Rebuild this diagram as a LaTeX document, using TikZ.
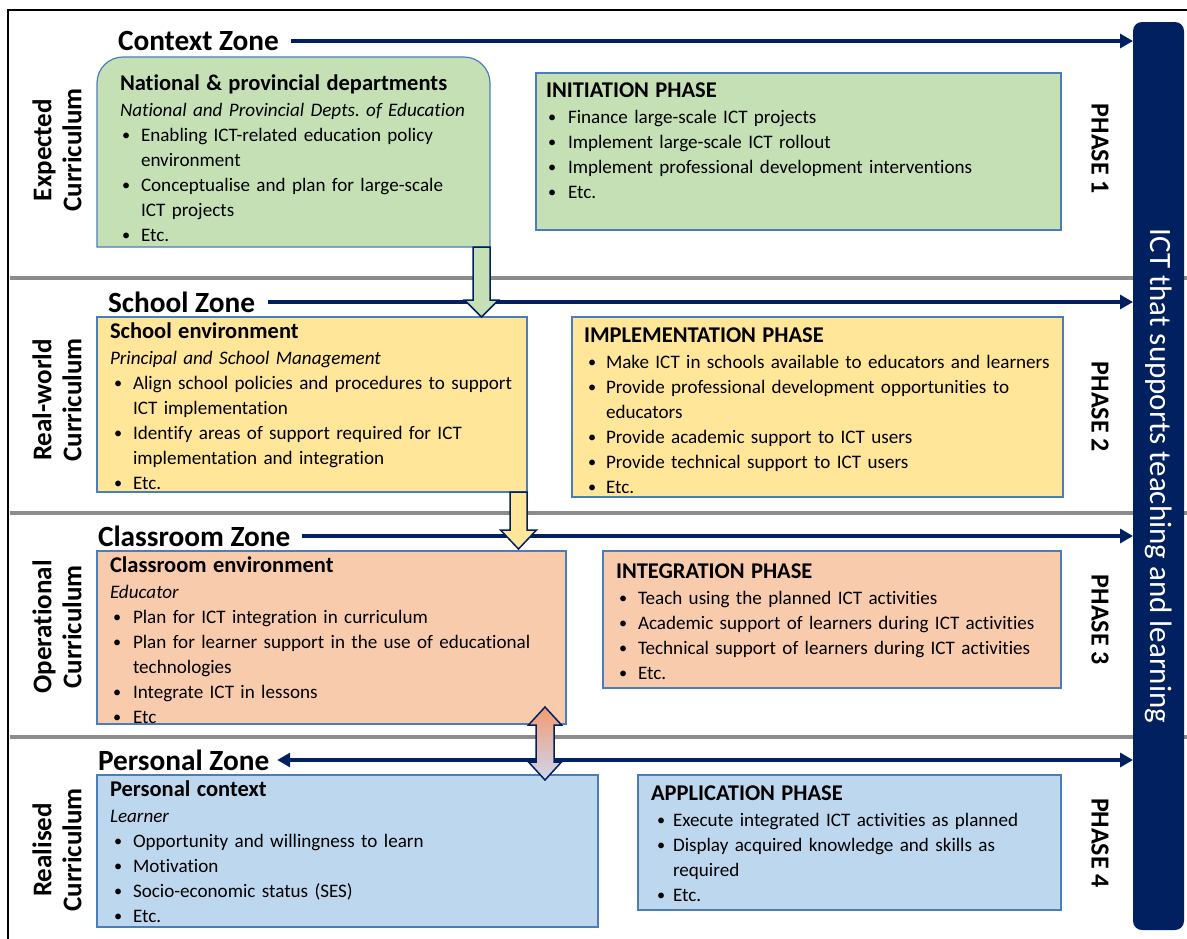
\documentclass[tikz,border=0pt]{standalone}
\usepackage{fontspec}
\setmainfont{Carlito}[Ligatures=NoCommon]
\usetikzlibrary{arrows.meta,calc}

\definecolor{navy}{HTML}{002060}
\definecolor{boxline}{HTML}{4A7EBB}
\definecolor{fgreen}{HTML}{C5E0B4}
\definecolor{fyellow}{HTML}{FFE699}
\definecolor{forange}{HTML}{F8CBAD}
\definecolor{fblue}{HTML}{BDD7EE}
\definecolor{sepgray}{HTML}{8C8C8C}
\definecolor{dtop}{HTML}{F29C70}
\definecolor{dbot}{HTML}{CDD6EF}

% no hyphenation, single spaces after full stops
\newcommand\plainpar{\hyphenpenalty=10000 \exhyphenpenalty=10000 \frenchspacing}

% bullet list helpers: \bset{bullet offset}{text indent}
\newlength\bind \newlength\boff
\newcommand\bset[2]{\setlength\boff{#1}\setlength\bind{#2}\plainpar}
\newcommand\bitem[1]{\par\hangindent=\bind\hangafter=1\noindent\makebox[\bind][l]{\hspace{\boff}\raisebox{1pt}{\scalebox{0.85}{•}}}#1}
\newcommand\ttl[1]{{\bfseries\fontsize{22.5}{25}\selectfont #1\par}\vspace{1.5pt}}

\tikzset{
  x=1pt, y=-1pt,
  box/.style={draw=boxline, line width=1.2pt, rectangle, inner sep=0pt, outer sep=0pt, anchor=north west},
  txt/.style={anchor=base west, inner sep=0pt, outer sep=0pt, align=left,
    font=\fontsize{19.1}{25}\selectfont},
  zone/.style={anchor=west, inner sep=0pt, outer sep=0pt, font=\bfseries\fontsize{29.3}{32}\selectfont},
  curr/.style={rotate=90, align=center, inner sep=0pt, font=\bfseries\fontsize{27}{30}\selectfont},
  phase/.style={rotate=-90, inner sep=0pt, font=\bfseries\fontsize{26}{30}\selectfont},
  zarrow/.style={draw=navy, line width=3.2pt, -{Triangle[length=13pt,width=14pt]}},
  sep/.style={draw=sepgray, line width=4pt},
  blockarrow/.style={draw=navy, line width=1.5pt, line join=miter},
}

\begin{document}
\begin{tikzpicture}
\useasboundingbox (0,0) rectangle (1187,938);
\clip (0,0) rectangle (1187,938);

% outer frame
\draw[line width=2pt] (8,950) -- (8,10) -- (1200,10);

% zone separators
\draw[sep] (10,278) -- (1187,278);
\draw[sep] (10,513) -- (1187,513);
\draw[sep] (10,737) -- (1187,737);

% vertical bar on the right
\node[fill=navy, rounded corners=9pt, minimum width=51pt, minimum height=908pt, inner sep=0pt, outer sep=0pt, anchor=north west] (bar) at (1133,22) {};
\node[rotate=-90, text=white, inner sep=0pt, font=\fontsize{31}{36}\selectfont] (bartext) at (1159,476) {ICT that supports teaching and learning};

% zone titles and their arrows
\node[zone] (ctx) at (118,41) {Context Zone};
\node[zone] (sch) at (108,302) {School Zone};
\node[zone] (cls) at (98,536) {Classroom Zone};
\node[zone] (per) at (98,760) {Personal Zone};
\draw[zarrow] ([xshift=12]ctx.east) -- (ctx.east -| bar.west);
\draw[zarrow] ([xshift=13]sch.east) -- (sch.east -| bar.west);
\draw[zarrow] ([xshift=12]cls.east) -- (cls.east -| bar.west);
\draw[zarrow, {Triangle[length=13pt,width=14pt]}-{Triangle[length=13pt,width=14pt]}] ([xshift=8]per.east) -- (per.east -| bar.west);

% curriculum labels
\node[curr] (c1) at (57,150) {Expected\\Curriculum};
\node[curr] (c2) at (57,400) {Real-world\\Curriculum};
\node[curr] (c3) at (57,627) {Operational\\Curriculum};
\node[curr] (c4) at (57,850) {Realised\\Curriculum};

% phase labels
\node[phase] (p1) at (1100,149) {PHASE 1};
\node[phase] (p2) at (1100,407) {PHASE 2};
\node[phase] (p3) at (1100,620) {PHASE 3};
\node[phase] (p4) at (1100,843) {PHASE 4};

% context zone
\node[box, draw=none, minimum width=393pt, minimum height=190pt] (nat) at (97,57) {};
\draw[draw=boxline, line width=1.2pt, fill=fgreen] (nat.south west) [rounded corners=26pt] -- (nat.north west) -- (nat.north east) -- (nat.east) [sharp corners] -- (nat.south east) -- cycle;
\node[txt, text width=400pt] (natt) at (120,90) {\bset{2pt}{21pt}%
\ttl{National \& provincial departments}
\textit{National and Provincial Depts. of Education}
\bitem{Enabling ICT-related education policy\newline environment}
\bitem{Conceptualise and plan for large-scale\newline ICT projects}
\bitem{Etc.}};

\node[box, fill=fgreen, minimum width=525pt, minimum height=157pt] (ini) at (536,73) {};
\node[txt, text width=500pt] (init) at (546,97) {\bset{2pt}{22pt}%
\ttl{INITIATION PHASE}
\bitem{Finance large-scale ICT projects}
\bitem{Implement large-scale ICT rollout}
\bitem{Implement professional development interventions}
\bitem{Etc.}};

% school zone
\node[box, fill=fyellow, minimum width=430pt, minimum height=175pt] (school) at (97,317) {};
\node[txt, text width=450pt] (schoolt) at (110,338) {\bset{4pt}{23pt}%
\ttl{School environment}
\textit{Principal and School Management}
\bitem{Align school policies and procedures to support\newline ICT implementation}
\bitem{Identify areas of support required for ICT\newline implementation and integration}
\bitem{Etc.}};

\node[box, fill=fyellow, minimum width=491pt, minimum height=180pt] (imp) at (572,317) {};
\node[txt, text width=520pt] (impt) at (584,342) {\bset{4pt}{22pt}%
\ttl{IMPLEMENTATION PHASE}
\bitem{Make ICT in schools available to educators and learners}
\bitem{Provide professional development opportunities to\newline educators}
\bitem{Provide academic support to ICT users}
\bitem{Provide technical support to ICT users}
\bitem{Etc.}};

% classroom zone
\node[box, fill=forange, minimum width=469pt, minimum height=173pt] (class) at (97,551) {};
\node[txt, text width=480pt] (classt) at (110,572) {\bset{3pt}{23pt}%
\ttl{Classroom environment}
\textit{Educator}
\bitem{Plan for ICT integration in curriculum}
\bitem{Plan for learner support in the use of educational\newline technologies}
\bitem{Integrate ICT in lessons}
\bitem{Etc}};

\node[box, fill=forange, minimum width=458pt, minimum height=137pt] (integ) at (603,551) {};
\node[txt, text width=480pt] (integt) at (616,578) {\bset{3pt}{22pt}%
\ttl{INTEGRATION PHASE}
\bitem{Teach using the planned ICT activities}
\bitem{Academic support of learners during ICT activities}
\bitem{Technical support of learners during ICT activities}
\bitem{Etc.}};

% personal zone
\node[box, fill=fblue, minimum width=501pt, minimum height=152pt] (pers) at (97,775) {};
\node[txt, text width=470pt] (perst) at (110,796) {\bset{4pt}{23pt}%
\ttl{Personal context}
\textit{Learner}
\bitem{Opportunity and willingness to learn}
\bitem{Motivation}
\bitem{Socio-economic status (SES)}
\bitem{Etc.}};

\node[box, fill=fblue, minimum width=423pt, minimum height=135pt] (appl) at (638,775) {};
\node[txt, text width=440pt] (applt) at (651,800) {\bset{6pt}{22pt}%
\ttl{APPLICATION PHASE}
\bitem{Execute integrated ICT activities as planned}
\bitem{Display acquired knowledge and skills as\newline required}
\bitem{Etc.}};

% block arrows between the zones
\coordinate (g0) at ($(nat.south east)+(-8.5,0)$);
\coordinate (g1) at (g0 |- school.north);
\path[blockarrow, fill=fgreen] ($(g0)+(-8.5,0)$) -- ($(g0)+(8.5,0)$) -- ($(g1)+(8.5,-17)$) -- ($(g1)+(17,-17)$) -- (g1) -- ($(g1)+(-17,-17)$) -- ($(g1)+(-8.5,-17)$) -- cycle;

\coordinate (y0) at ($(school.south east)+(-8.5,0)$);
\coordinate (y1) at ($(y0 |- class.north)+(0,-2)$);
\path[blockarrow, fill=fyellow] ($(y0)+(-8.5,0)$) -- ($(y0)+(8.5,0)$) -- ($(y1)+(8.5,-19)$) -- ($(y1)+(18,-19)$) -- (y1) -- ($(y1)+(-18,-19)$) -- ($(y1)+(-8.5,-19)$) -- cycle;

\coordinate (d0) at ($(class.south west)+(448,-17)$);
\coordinate (d1) at ($(pers.north west)+(448,5)$);
\path[blockarrow, top color=dtop, bottom color=dbot] (d0) -- ($(d0)+(16.5,18)$) -- ($(d0)+(9,18)$) -- ($(d1)+(9,-18)$) -- ($(d1)+(16.5,-18)$) -- (d1) -- ($(d1)+(-16.5,-18)$) -- ($(d1)+(-9,-18)$) -- ($(d0)+(-9,18)$) -- ($(d0)+(-16.5,18)$) -- cycle;

\end{tikzpicture}
\end{document}
